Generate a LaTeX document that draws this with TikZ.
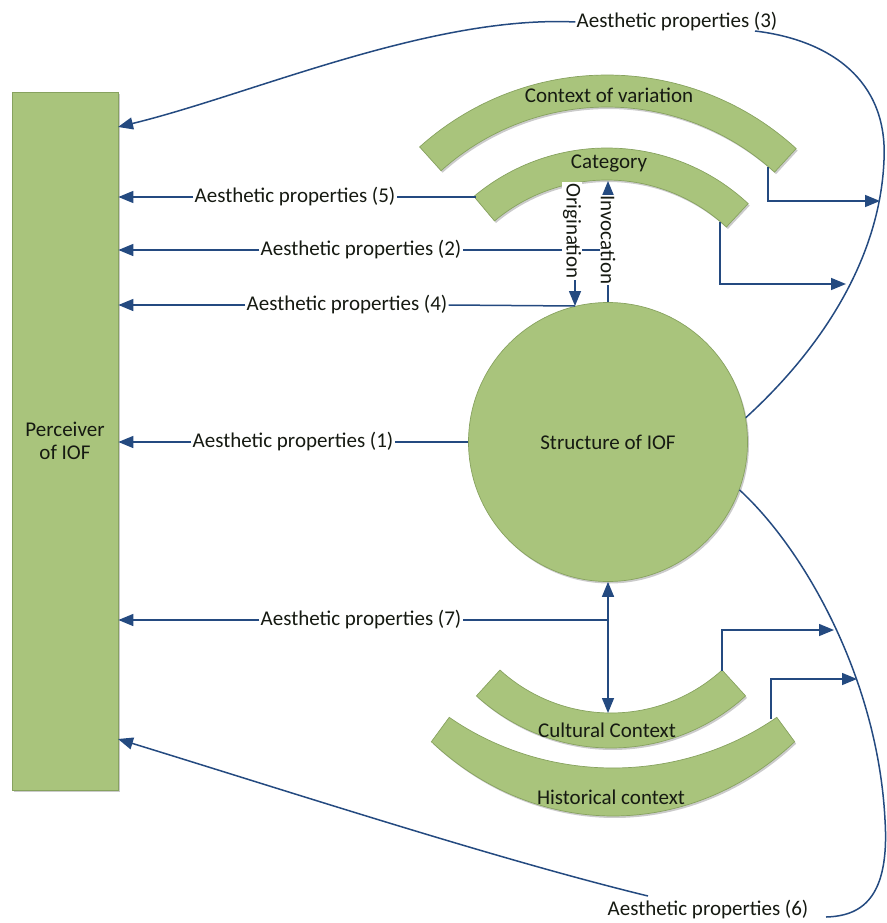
\documentclass[tikz,border=0pt]{standalone}
\usepackage{fontspec}
\setmainfont{Carlito}
\usetikzlibrary{arrows.meta,shadows}
\definecolor{grn}{RGB}{169,196,124}
\definecolor{grnd}{RGB}{135,162,95}
\definecolor{lnb}{RGB}{36,74,128}
\definecolor{txt}{RGB}{22,26,18}
\begin{document}
\begin{tikzpicture}[x=1pt,y=-1pt,
  shp/.style={fill=grn, draw=grnd, line width=0.7pt,
    drop shadow={shadow xshift=1.5pt, shadow yshift=-2pt, fill=black!45, opacity=0.45}},
  conn/.style={draw=lnb, line width=1.5pt},
  arr/.style={conn, -{Triangle[length=15pt,width=12pt]}},
  arrtwo/.style={conn, {Triangle[length=15pt,width=12pt]}-{Triangle[length=15pt,width=12pt]}},
  lab/.style={fill=white, inner sep=1pt, text=txt, font=\fontsize{21}{25}\selectfont},
  bt/.style={inner sep=0pt, text=txt, font=\fontsize{21}{25}\selectfont}]
\useasboundingbox (0,0) rectangle (886,923);

% bands
\path[shp] plot[domain=228:312.5, samples=60] ({607+280*cos(\x)},{355+280*sin(\x)})
  -- plot[domain=312.5:228, samples=60] ({607+248*cos(\x)},{355+248*sin(\x)}) -- cycle;
\path[shp] plot[domain=230:313, samples=60] ({607+207*cos(\x)},{355+207*sin(\x)})
  -- plot[domain=313:230, samples=60] ({607+175*cos(\x)},{355+175*sin(\x)}) -- cycle;
\path[shp] plot[domain=47.7:132.3, samples=60] ({611+200*cos(\x)},{548+200*sin(\x)})
  -- plot[domain=132.3:47.7, samples=60] ({611+165*cos(\x)},{548+165*sin(\x)}) -- cycle;
\path[shp] plot[domain=49.9:130.1, samples=60] ({613+282*cos(\x)},{500+316*sin(\x)})
  -- plot[domain=125.8:54.2, samples=60] ({613+280*cos(\x)},{500+268*sin(\x)}) -- cycle;

\node[bt] (cv) at (609,95) {Context of variation};
\node[bt] (cat) at (609,163) {Category};
\node[bt] (cul) at (607,730) {Cultural Context};
\node[bt] (his) at (611,797) {Historical context};

% main shapes
\node[shp, rectangle, minimum width=106pt, minimum height=698pt, inner sep=0pt,
  align=center, text=txt, font=\fontsize{21}{23}\selectfont] (perc) at (65,441) {Perceiver\\of IOF};
\node[shp, circle, minimum size=279pt, inner sep=0pt, text=txt,
  font=\fontsize{21}{25}\selectfont] (circ) at (608,442) {Structure of IOF};

% labels
\node[lab] (l5) at (295,197) {Aesthetic properties (5)};
\node[lab] (l2) at (361,250) {Aesthetic properties (2)};
\node[lab] (l4) at (347,305) {Aesthetic properties (4)};
\node[lab] (l1) at (293,442) {Aesthetic properties (1)};
\node[lab] (l7) at (361,620) {Aesthetic properties (7)};
\node[lab] (l3) at (677,22) {Aesthetic properties (3)};
\node[lab] (l6) at (708,910) {Aesthetic properties (6)};

% coordinates
\coordinate (c5) at (476,197);
\coordinate (c2) at (608,250);
\coordinate (c4) at (575,306);
\coordinate (og1) at (575,183);
\coordinate (iv1) at (608,181);
\coordinate (cc) at (608,713);
\coordinate (c7) at (608,620);
\coordinate (cv1) at (768,167);
\coordinate (cv2) at (880,201);
\coordinate (ca1) at (720,222);
\coordinate (ca2) at (846,284);
\coordinate (cu1) at (722,671);
\coordinate (cu2) at (834,630);
\coordinate (hi1) at (771,719);
\coordinate (hi2) at (857,679);
\coordinate (l3r) at (755,31);
\coordinate (p3) at (118,127);
\coordinate (l6r) at (826,917);
\coordinate (l6l) at (648,896);
\coordinate (p6) at (118,739);

% horizontal property arrows
\draw[conn] (circ.west) -- (l1.east);
\draw[arr] (l1.west) -- (l1.west -| perc.east);
\draw[conn] (c5) -- (l5.east);
\draw[arr] (l5.west) -- (l5.west -| perc.east);
\draw[conn] (c2) -- (l2.east);
\draw[arr] (l2.west) -- (l2.west -| perc.east);
\draw[conn] (c4) -- (l4.east);
\draw[arr] (l4.west) -- (l4.west -| perc.east);
\draw[conn] (c7) -- (l7.east);
\draw[arr] (l7.west) -- (l7.west -| perc.east);

% origination / invocation
\draw[arr] (og1) -- (c4);
\draw[arr] (circ.north) -- (iv1);
\draw[arrtwo] (circ.south) -- (cc);

% context connectors
\draw[arr] (cv1) |- (cv2);
\draw[arr] (ca1) |- (ca2);
\draw[arr] (cu1) |- (cu2);
\draw[arr] (hi1) |- (hi2);

% curves (3) and (6)
\draw[conn] (circ.10) .. controls (820,350) and (880,260) .. (884,160)
  .. controls (888,80) and (830,40) .. (l3r);
\draw[arr] (l3.west) .. controls (430,15) and (250,95) .. (p3);
\draw[conn] (circ.-20) .. controls (805,550) and (878,680) .. (885,820)
  .. controls (890,900) and (860,916) .. (l6r);
\draw[arr] (l6l) .. controls (500,860) and (300,795) .. (p6);

% rotated labels
\node[lab, rotate=-90] (orig) at (572,231) {Origination};
\node[lab, rotate=-90] (invo) at (608,240) {Invocation};
\end{tikzpicture}
\end{document}
